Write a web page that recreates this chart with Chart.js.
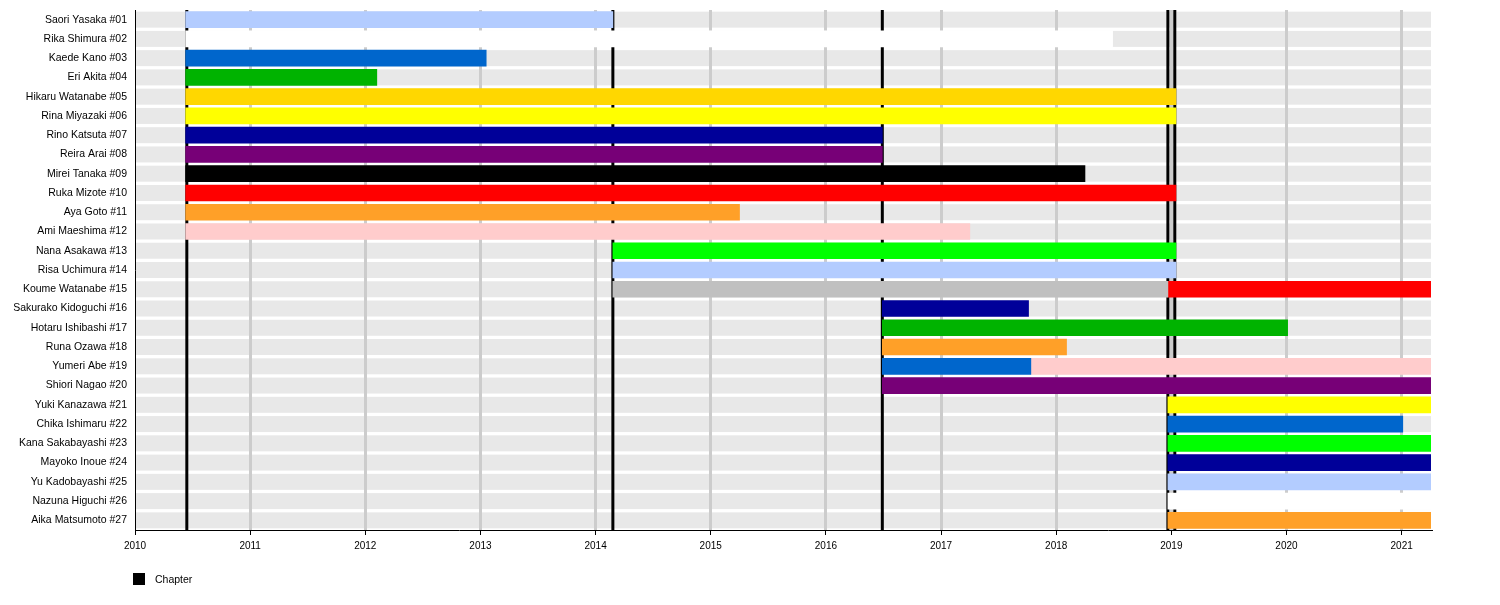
<!DOCTYPE html>
<html>
<head>
<meta charset="utf-8">
<script src="https://cdn.jsdelivr.net/npm/chart.js@4.4.1/dist/chart.umd.min.js"></script>
<style>
  html, body { margin: 0; padding: 0; background: #fff; }
  #wrap { width: 1500px; height: 605px; }
</style>
</head>
<body>
<div id="wrap"><canvas id="timeline"></canvas></div>
<script>
// members, one row each, top to bottom
const members = [
    'Saori Yasaka #01', 'Rika Shimura #02', 'Kaede Kano #03', 'Eri Akita #04',
    'Hikaru Watanabe #05', 'Rina Miyazaki #06', 'Rino Katsuta #07', 'Reira Arai #08',
    'Mirei Tanaka #09', 'Ruka Mizote #10', 'Aya Goto #11', 'Ami Maeshima #12',
    'Nana Asakawa #13', 'Risa Uchimura #14', 'Koume Watanabe #15', 'Sakurako Kidoguchi #16',
    'Hotaru Ishibashi #17', 'Runa Ozawa #18', 'Yumeri Abe #19', 'Shiori Nagao #20',
    'Yuki Kanazawa #21', 'Chika Ishimaru #22', 'Kana Sakabayashi #23', 'Mayoko Inoue #24',
    'Yu Kadobayashi #25', 'Nazuna Higuchi #26', 'Aika Matsumoto #27'
];

// first period of each member (decimal years)
const firstStart = [
    2010.44, 2010.44, 2010.44, 2010.44, 2010.44, 2010.44, 2010.44, 2010.44, 2010.44,
    2010.44, 2010.44, 2010.44, 2014.15, 2014.15, 2014.15, 2016.49, 2016.49, 2016.49,
    2016.49, 2016.49, 2018.97, 2018.97, 2018.97, 2018.97, 2018.97, 2018.97, 2018.97
];
const firstEnd = [
    2014.15, 2018.49, 2013.05, 2012.10, 2019.04, 2019.04, 2016.49, 2016.49, 2018.25,
    2019.04, 2015.25, 2017.25, 2019.04, 2019.04, 2018.97, 2017.76, 2020.01, 2018.09,
    2017.78, 2021.26, 2021.26, 2021.01, 2021.26, 2021.26, 2021.26, 2021.26, 2021.26
];
const firstColor = [
    'lightblue', 'white', 'blue', 'green', 'gold', 'yellow', 'darkblue', 'purple', 'black',
    'red', 'orange', 'pink', 'lime', 'lightblue', 'grey', 'darkblue', 'green', 'orange',
    'blue', 'purple', 'yellow', 'blue', 'lime', 'darkblue', 'lightblue', 'white', 'orange'
];

// second period (only Koume and Yumeri have one)
const secondStart = [
    null, null, null, null, null, null, null, null, null, null, null, null, null, null,
    2018.97, null, null, null, 2017.78, null, null, null, null, null, null, null, null
];
const secondEnd = [
    null, null, null, null, null, null, null, null, null, null, null, null, null, null,
    2021.26, null, null, null, 2021.26, null, null, null, null, null, null, null, null
];
const secondColor = [
    null, null, null, null, null, null, null, null, null, null, null, null, null, null,
    'red', null, null, null, 'pink', null, null, null, null, null, null, null, null
];

const chapterDates = [2010.45, 2014.15, 2016.49, 2018.97, 2019.03];
const yearTicks = [2010, 2011, 2012, 2013, 2014, 2015, 2016, 2017, 2018, 2019, 2020, 2021];
const timeStart = 2010;
const timeEnd = 2021.255;

const palette = {
    lightblue: '#b3ccff', white: '#ffffff', blue: '#0066cc', green: '#00b300',
    gold: '#ffd700', yellow: '#ffff00', darkblue: '#000099', purple: '#770077',
    black: '#000000', red: '#ff0000', orange: '#ffa028', pink: '#ffcccc',
    lime: '#00ff00', grey: '#c0c0c0'
};

Chart.defaults.font.family = "'Liberation Sans', Arial, sans-serif";
Chart.defaults.font.size = 10.5;
Chart.defaults.color = '#000';

// grey band behind every row
const rowBands = {
    id: 'rowBands',
    beforeDraw(chart) {
        const { ctx, chartArea, scales } = chart;
        ctx.save();
        ctx.fillStyle = '#e8e8e8';
        members.forEach((m, i) => {
            const y = scales.y.getPixelForValue(i);
            ctx.fillRect(chartArea.left, y - 8, chartArea.right - chartArea.left, 16);
        });
        ctx.restore();
    }
};

// black chapter lines, under the bars
const chapterLines = {
    id: 'chapterLines',
    beforeDatasetsDraw(chart) {
        const { ctx, chartArea, scales } = chart;
        ctx.save();
        ctx.strokeStyle = '#000';
        ctx.lineWidth = 3;
        chapterDates.forEach(d => {
            const x = scales.x.getPixelForValue(d);
            ctx.beginPath();
            ctx.moveTo(x, chartArea.top);
            ctx.lineTo(x, chartArea.bottom);
            ctx.stroke();
        });
        ctx.restore();
    }
};

// legend box below the axis
const chapterLegend = {
    id: 'chapterLegend',
    afterDraw(chart) {
        const { ctx, chartArea } = chart;
        ctx.save();
        ctx.fillStyle = '#000';
        ctx.fillRect(chartArea.left - 2, chartArea.bottom + 43, 12, 12);
        ctx.font = "10.5px 'Liberation Sans', Arial, sans-serif";
        ctx.textBaseline = 'middle';
        ctx.fillText('Chapter', chartArea.left + 20, chartArea.bottom + 50);
        ctx.restore();
    }
};

const ctx = document.getElementById('timeline').getContext('2d');
new Chart(ctx, {
    type: 'bar',
    data: {
        labels: members,
        datasets: [
            {
                label: 'period 1',
                data: firstStart.map((s, i) => [s, firstEnd[i]]),
                backgroundColor: firstColor.map(c => palette[c]),
                barThickness: 16,
                grouped: false
            },
            {
                label: 'period 2',
                data: secondStart.map((s, i) => s === null ? null : [s, secondEnd[i]]),
                backgroundColor: secondColor.map(c => c ? palette[c] : 'transparent'),
                barThickness: 16,
                grouped: false
            }
        ]
    },
    options: {
        indexAxis: 'y',
        responsive: true,
        maintainAspectRatio: false,
        animation: false,
        layout: { padding: { top: 10, right: 69, bottom: 0, left: 0 } },
        plugins: {
            legend: { display: false },
            tooltip: { enabled: false }
        },
        scales: {
            x: {
                type: 'linear',
                min: timeStart,
                max: timeEnd,
                afterBuildTicks: (scale) => {
                    scale.ticks = yearTicks.map(v => ({ value: v }));
                },
                afterFit: (scale) => {
                    scale.height = 75;
                    scale.paddingTop = 0;
                    scale.paddingBottom = 0;
                },
                grid: {
                    color: (c) => (c.tick && c.tick.value === timeStart) ? 'rgba(0,0,0,0)' : '#cccccc',
                    lineWidth: 3,
                    tickColor: '#000',
                    tickWidth: 1,
                    tickLength: 5
                },
                border: { display: true, color: '#000', width: 1 },
                ticks: {
                    padding: 5,
                    maxRotation: 0,
                    autoSkip: false,
                    font: { size: 10 },
                    callback: (v) => String(v)
                }
            },
            y: {
                afterFit: (scale) => {
                    scale.width = 135;
                    scale.paddingTop = 0;
                    scale.paddingBottom = 0;
                },
                grid: { display: false, drawTicks: false },
                border: { display: true, color: '#000', width: 1 },
                ticks: { padding: 8, autoSkip: false }
            }
        }
    },
    plugins: [rowBands, chapterLines, chapterLegend]
});
</script>
</body>
</html>
